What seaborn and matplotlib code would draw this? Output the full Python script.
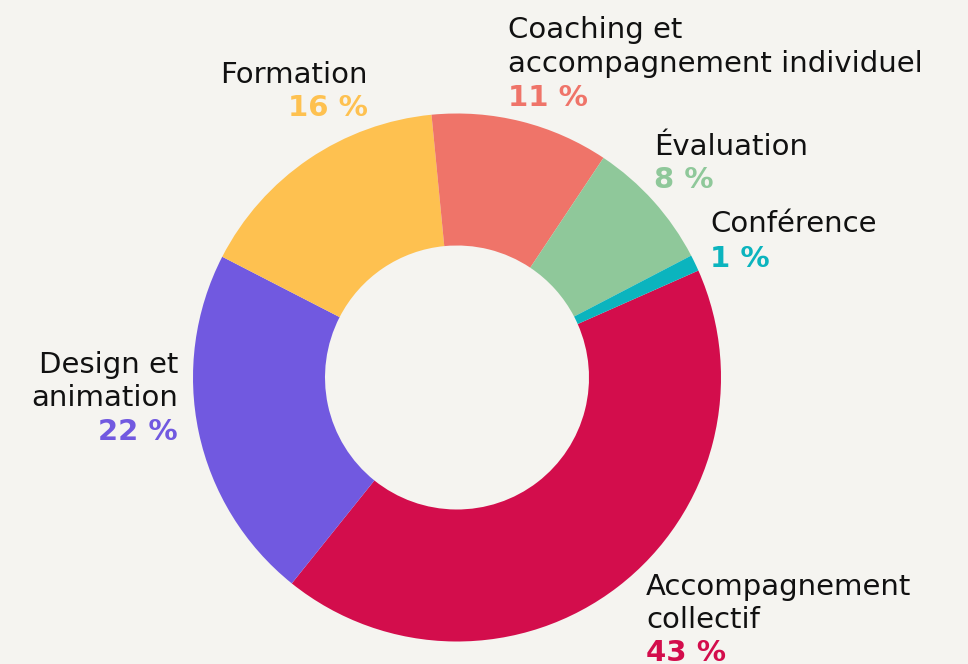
import matplotlib.pyplot as plt
import seaborn as sns

# Répartition des activités
categories = ["Accompagnement collectif", "Design et animation", "Formation",
              "Coaching et accompagnement individuel", "Évaluation", "Conférence"]
valeurs = [42.4, 21.8, 15.9, 10.9, 8.0, 1.0]
pourcentages = ["43 %", "22 %", "16 %", "11 %", "8 %", "1 %"]
couleurs = ["#d30d4c", "#7159e0", "#fec150", "#ef7469", "#8fc89a", "#0bb4be"]

# libellés : lignes du nom, position (px) et alignement
libelles = [
    (["Accompagnement", "collectif"], 646, [595, 628, 661], "left"),
    (["Design et", "animation"], 178, [373, 406, 440], "right"),
    (["Formation"], 368, [83, 116], "right"),
    (["Coaching et", "accompagnement individuel"], 508, [38, 72, 106], "left"),
    (["Évaluation"], 654, [155, 188], "left"),
    (["Conférence"], 710, [232, 267], "left"),
]

fond = "#f5f4f0"
sns.set_theme(style="white")
plt.rcParams["font.family"] = ["DejaVu Sans"]

W, H = 968, 664
fig = plt.figure(figsize=(W / 100, H / 100), dpi=100, facecolor=fond)
cx, cy, r = 457, 377.5, 264
ax = fig.add_axes([(cx - r) / W, (H - cy - r) / H, 2 * r / W, 2 * r / H])
ax.set_facecolor(fond)

ax.pie(valeurs, colors=couleurs, startangle=23.9, counterclock=False,
       radius=1, wedgeprops=dict(width=0.5, linewidth=0))
ax.set_xlim(-1, 1)
ax.set_ylim(-1, 1)
ax.set_aspect("equal")
ax.axis("off")

for (lignes, x, ys, ha), pct, col in zip(libelles, pourcentages, couleurs):
    for ligne, y in zip(lignes, ys):
        fig.text(x / W, 1 - y / H, ligne, ha=ha, va="baseline",
                 fontsize=21, color="#111111")
    fig.text(x / W, 1 - ys[-1] / H, pct, ha=ha, va="baseline",
             fontsize=21, fontweight="bold", color=col)

fig.savefig("out.png", dpi=100, facecolor=fond)
